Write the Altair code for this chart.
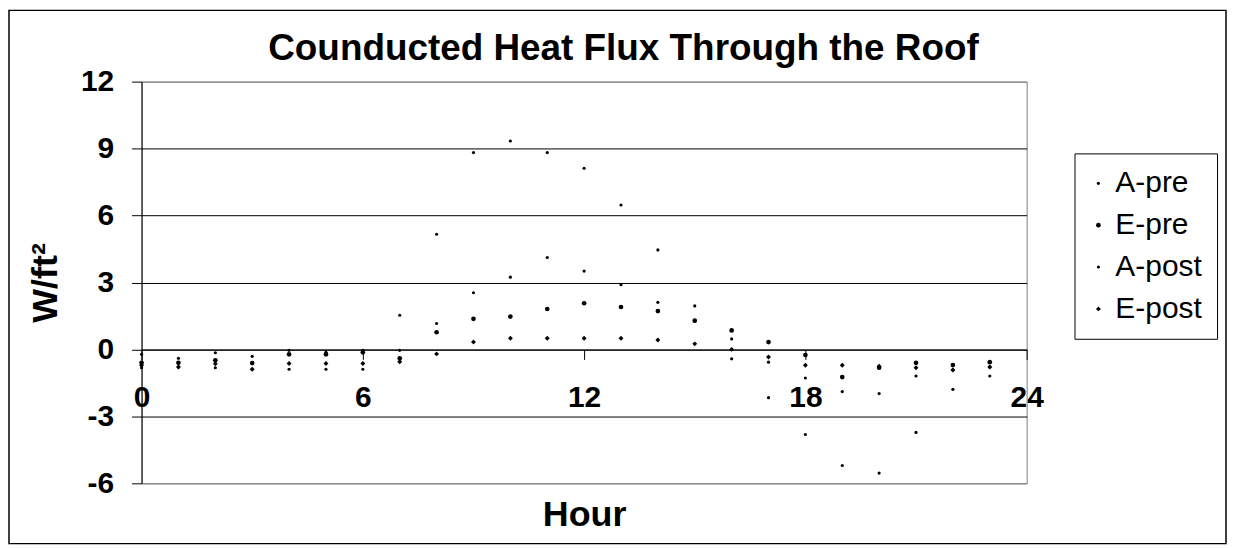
import altair as alt
import pandas as pd

hours = list(range(24))
series_names = ["A-pre", "E-pre", "A-post", "E-post"]

a_pre = [-0.82, -0.79, -0.82, -0.89, -0.89, -0.89, -0.89, 1.53, 5.16, 8.82, 9.34, 8.82,
         8.12, 6.47, 4.46, 1.95, -0.42, -2.16, -3.81, -5.20, -5.54, -3.72, -1.79, -1.19]
e_pre = [-0.60, -0.60, -0.49, -0.61, -0.22, -0.22, -0.13, -0.40, 0.77, 1.37, 1.47, 1.81,
         2.07, 1.90, 1.72, 1.29, 0.85, 0.33, -0.25, -1.24, -0.82, -0.60, -0.70, -0.57]
a_post = [-0.22, -0.40, -0.15, -0.31, -0.04, -0.13, -0.04, -0.04, 1.16, 2.54, 3.24, 4.12,
          3.51, 2.90, 2.11, 1.29, 0.47, -0.57, -1.28, -1.89, -1.98, -1.19, -0.92, -0.79]
e_post = [-0.71, -0.79, -0.64, -0.89, -0.63, -0.63, -0.63, -0.55, -0.20, 0.33, 0.50, 0.50,
          0.50, 0.50, 0.42, 0.25, 0.00, -0.34, -0.71, -0.71, -0.75, -0.82, -0.92, -0.79]

x_ticks = [0, 6, 12, 18, 24]
y_ticks = [-6, -3, 0, 3, 6, 9, 12]

rows = []
for name, vals in zip(series_names, [a_pre, e_pre, a_post, e_post]):
    for h, v in zip(hours, vals):
        rows.append({"hour": h, "series": name, "value": v})
df = pd.DataFrame(rows)

FONT = "Liberation Sans"
W, H = 888, 403

leg = dict(title=None, orient="none", legendX=936, legendY=72)

points = alt.Chart(df).mark_point(filled=True, color="black", opacity=1).encode(
    x=alt.X("hour:Q",
            scale=alt.Scale(domain=[0, 24], nice=False, zero=False),
            axis=alt.Axis(values=x_ticks, offset=-H * 6 / 18, labelFlush=False,
                          labelFontSize=30, labelFontWeight="bold", labelColor="black",
                          labelPadding=23, tickSize=10, tickColor="black",
                          domainColor="black", grid=False,
                          title="Hour", titleFontSize=36, titleFontWeight="bold",
                          titleColor="black", titlePadding=86)),
    y=alt.Y("value:Q",
            scale=alt.Scale(domain=[-6, 12], nice=False, zero=False),
            axis=alt.Axis(values=y_ticks, labelExpr="'' + datum.value",
                          labelFontSize=30, labelFontWeight="bold",
                          labelColor="black", labelPadding=18, tickSize=10,
                          tickColor="black", domainColor="black",
                          grid=True,
                          gridColor=alt.condition("datum.value == 12 || datum.value == -6",
                                                  alt.value("#808080"), alt.value("black")),
                          title="W/ft²", titleFontSize=36, titleFontWeight="bold",
                          titleColor="black", titlePadding=16)),
    shape=alt.Shape("series:N", sort=series_names,
                    scale=alt.Scale(domain=series_names,
                                    range=["circle", "circle", "circle", "diamond"]),
                    legend=alt.Legend(strokeColor="black", fillColor="white", padding=15,
                                      rowPadding=12, labelFontSize=30, labelFont=FONT,
                                      labelColor="black", labelOffset=2, symbolOffset=-6,
                                      **leg)),
    size=alt.Size("series:N", sort=series_names,
                  scale=alt.Scale(type="ordinal", domain=series_names,
                                  range=[10, 22, 10, 24]),
                  legend=alt.Legend(**leg)),
)

frame = alt.Chart(pd.DataFrame({"k": [0]})).mark_rect(
    fill="transparent", stroke="black", strokeWidth=1.5
).encode(
    x=alt.value(-133), x2=alt.value(1088), y=alt.value(-71.5), y2=alt.value(463.5)
)

chart = alt.layer(frame, points).properties(
    width=W, height=H,
    padding=0,
    title=alt.TitleParams("Counducted Heat Flux Through the Roof", fontSize=37,
                          fontWeight="bold", font=FONT, color="black", anchor="middle",
                          frame="bounds", dx=6, offset=-59),
).configure(font=FONT).configure_view(stroke="#808080", strokeWidth=1)

chart.save("out.html", embed_options={"renderer": "svg", "actions": False})
